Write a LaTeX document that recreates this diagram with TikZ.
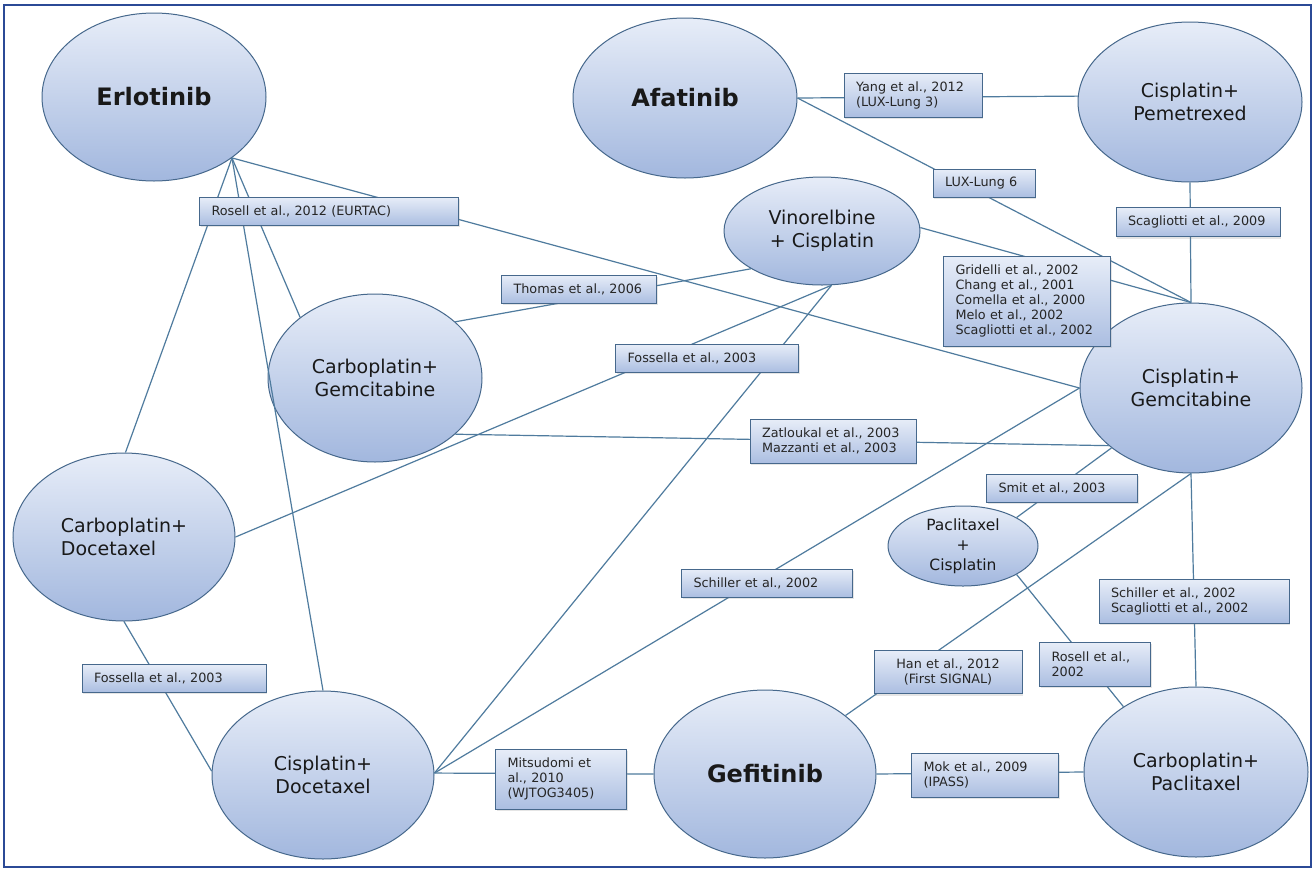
\documentclass[tikz,border=0pt]{standalone}
\usepackage{fontspec}
\setmainfont{DejaVu Sans}
\usetikzlibrary{shapes.geometric,shadows}
\definecolor{edge}{HTML}{4F7B9E}
\definecolor{rim}{HTML}{46688C}
\definecolor{paletop}{HTML}{E7EDF8}
\definecolor{deepblue}{HTML}{A2B7DE}
\definecolor{frame}{HTML}{2B4A96}

\begin{document}
\begin{tikzpicture}[x=1pt, y=-1pt,
  drug/.style={ellipse, draw=rim, line width=1pt, top color=paletop, bottom color=deepblue, inner sep=0pt, text=black!90, font=\bfseries\fontsize{24}{28}\selectfont},
  combo/.style={drug, align=center, font=\fontsize{19}{23}\selectfont},
  ref/.style={rectangle, draw=rim, line width=0.8pt, top color=paletop, bottom color=deepblue!90, inner xsep=12pt, inner ysep=0pt, align=left, text=black!85, font=\fontsize{12.8}{15}\selectfont, drop shadow={opacity=0.2, shadow xshift=1pt, shadow yshift=-2pt}},
  link/.style={draw=edge, line width=1.2pt}
]
\useasboundingbox (0,0) rectangle (1315,871);
\fill[white] (0,0) rectangle (1315,871);
\draw[frame, line width=2pt] (4,5) rectangle (1311,867);

\node[drug, minimum width=224pt, minimum height=168pt] (erlotinib) at (154,97) {Erlotinib};
\node[drug, minimum width=224pt, minimum height=160pt] (afatinib) at (685,98) {Afatinib};
\node[combo, minimum width=224pt, minimum height=160pt] (cispem) at (1190,102) {Cisplatin+\\Pemetrexed};
\node[combo, minimum width=196pt, minimum height=108pt] (vincis) at (822,231) {Vinorelbine\\+ Cisplatin};
\node[combo, minimum width=214pt, minimum height=168pt] (carbogem) at (375,378) {Carboplatin+\\Gemcitabine};
\node[combo, align=left, minimum width=222pt, minimum height=168pt] (carbodoc) at (124,537) {Carboplatin+\\Docetaxel};
\node[combo, minimum width=222pt, minimum height=168pt] (cisdoc) at (323,775) {Cisplatin+\\Docetaxel};
\node[drug, minimum width=222pt, minimum height=168pt] (gefitinib) at (765,774) {Gefitinib};
\node[combo, minimum width=224pt, minimum height=170pt] (carbopac) at (1196,772) {Carboplatin+\\Paclitaxel};
\node[combo, minimum width=222pt, minimum height=170pt] (cisgem) at (1191,388) {Cisplatin+\\Gemcitabine};
\node[combo, font=\fontsize{15.5}{20}\selectfont, minimum width=150pt, minimum height=80pt] (paccis) at (963,546) {Paclitaxel\\+\\Cisplatin};

\draw[link] (erlotinib.-38) -- (cisgem.180);
\draw[link] (erlotinib.-38) -- (carbodoc.89);
\draw[link] (erlotinib.-38) -- (cisdoc.90);
\draw[link] (erlotinib.-38) -- (carbogem.141);
\draw[link] (afatinib.0) -- (cispem.177);
\draw[link] (afatinib.0) -- (cisgem.90);
\draw[link] (cispem.-90) -- (cisgem.90);
\draw[link] (vincis.2) -- (cisgem.90);
\draw[link] (carbogem.35) -- (vincis.208);
\draw[link] (carbodoc.0) -- (vincis.-80);
\draw[link] (cisdoc.1) -- (vincis.-80);
\draw[link] (cisdoc.1) -- (cisgem.180);
\draw[link] (cisdoc.1) -- (gefitinib.180);
\draw[link] (carbodoc.-90) -- (cisdoc.178);
\draw[link] (carbogem.-35) -- (cisgem.215);
\draw[link] (paccis.28) -- (cisgem.217);
\draw[link] (paccis.-28) -- (carbopac.138);
\draw[link] (cisgem.-90) -- (carbopac.90);
\draw[link] (gefitinib.36) -- (cisgem.-90);
\draw[link] (gefitinib.0) -- (carbopac.180);

\node[ref, text width=235pt, minimum height=28pt] (eurtac) at (329,211) {Rosell et al., 2012 (EURTAC)};
\node[ref, text width=114pt, minimum height=44pt] (luxlung3) at (913,95) {Yang et al., 2012\\(LUX-Lung 3)};
\node[ref, text width=78pt, minimum height=28pt] (luxlung6) at (984,183) {LUX-Lung 6};
\node[ref, text width=140pt, minimum height=29pt] (scag2009) at (1198,222) {Scagliotti et al., 2009};
\node[ref, text width=143pt, minimum height=90pt] (gridelli) at (1027,301) {Gridelli et al., 2002\\Chang et al., 2001\\Comella et al., 2000\\Melo et al., 2002\\Scagliotti et al., 2002};
\node[ref, text width=131pt, minimum height=28pt] (thomas) at (579,289) {Thomas et al., 2006};
\node[ref, text width=159pt, minimum height=28pt] (fossmid) at (707,358) {Fossella et al., 2003};
\node[ref, text width=142pt, minimum height=44pt] (zatloukal) at (833,441) {Zatloukal et al., 2003\\Mazzanti et al., 2003};
\node[ref, text width=127pt, minimum height=28pt] (smit) at (1062,488) {Smit et al., 2003};
\node[ref, text width=147pt, minimum height=28pt] (schillermid) at (767,583) {Schiller et al., 2002};
\node[ref, text width=166pt, minimum height=44pt] (schillerright) at (1194,601) {Schiller et al., 2002\\Scagliotti et al., 2002};
\node[ref, text width=160pt, minimum height=28pt] (fossleft) at (174,678) {Fossella et al., 2003};
\node[ref, align=center, text width=124pt, minimum height=43pt] (han) at (948,672) {Han et al., 2012\\(First SIGNAL)};
\node[ref, text width=87pt, minimum height=44pt] (rosell2002) at (1095,664) {Rosell et al.,\\2002};
\node[ref, text width=107pt, minimum height=60pt] (mitsudomi) at (561,779) {Mitsudomi et\\al., 2010\\(WJTOG3405)};
\node[ref, text width=123pt, minimum height=44pt] (mok) at (985,775) {Mok et al., 2009\\(IPASS)};
\end{tikzpicture}
\end{document}
